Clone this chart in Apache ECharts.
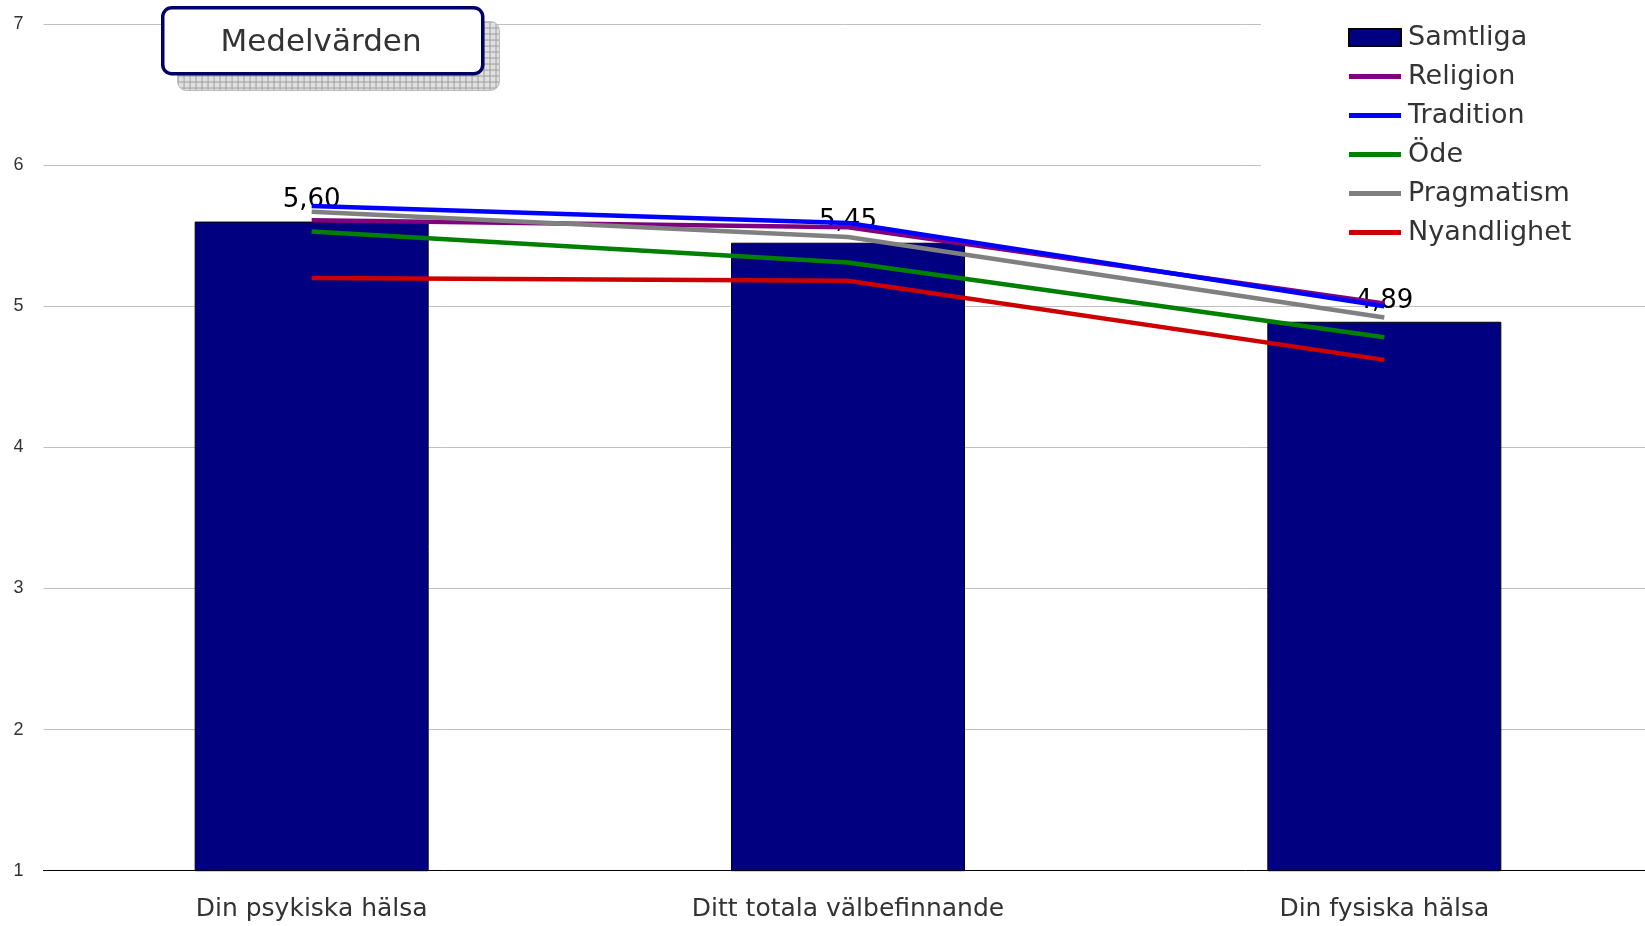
<!DOCTYPE html>
<html><head><meta charset="utf-8">
<script src="https://cdn.jsdelivr.net/npm/echarts@6/dist/echarts.min.js"></script>
<style>html,body{margin:0;padding:0;background:#fff}#c{width:1645px;height:926px}</style>
</head><body><div id="c"></div>
<script>
const categories = ['Din psykiska hälsa', 'Ditt totala välbefinnande', 'Din fysiska hälsa'];
const samtliga = [5.60, 5.45, 4.89];
const religion = [5.61, 5.56, 5.02];
const tradition = [5.71, 5.59, 5.00];
const ode = [5.53, 5.31, 4.78];
const pragmatism = [5.67, 5.49, 4.92];
const nyandlighet = [5.20, 5.18, 4.62];
const yTicks = [1, 7, 1];
const titleText = 'Medelvärden';

const FONT = 'DejaVu Sans';
const pc = document.createElement('canvas');
pc.width = 6; pc.height = 6;
const pctx = pc.getContext('2d');
pctx.fillStyle = '#e0e0e0'; pctx.fillRect(0,0,6,6);
pctx.fillStyle = '#a0a0a0'; pctx.fillRect(0,0,6,1); pctx.fillRect(0,0,1,6);

function line(name, data, color) {
  return {name, type:'line', data, symbol:'none', z:3,
    lineStyle:{color, width:4.5}, itemStyle:{color}};
}
const LINEICON = 'path://M0,0L10,0L10,1L0,1Z';
const chart = echarts.init(document.getElementById('c'));
chart.setOption({
  animation:false,
  textStyle:{fontFamily:FONT},
  grid:{left:43.5, width:1609, top:24, bottom:55.3, outerBoundsMode:'none', containLabel:false},
  legend:{
    orient:'vertical', left:1261, top:0,
    padding:[24, 200, 14, 87],
    backgroundColor:'#ffffff',
    itemWidth:52, itemHeight:17, itemGap:12,
    textStyle:{fontFamily:FONT, fontSize:27, color:'#333', padding:[0,0,0,2]},
    data:[
      {name:'Samtliga', icon:'rect'},
      {name:'Religion', icon:LINEICON},
      {name:'Tradition', icon:LINEICON},
      {name:'Öde', icon:LINEICON},
      {name:'Pragmatism', icon:LINEICON},
      {name:'Nyandlighet', icon:LINEICON}
    ]
  },
  xAxis:{type:'category', data:categories,
    axisLine:{lineStyle:{color:'#000', width:1}}, axisTick:{show:false},
    axisLabel:{fontFamily:FONT, fontSize:25, color:'#333', margin:26}},
  yAxis:{type:'value', min:yTicks[0], max:yTicks[1], interval:yTicks[2],
    axisLine:{show:false}, axisTick:{show:false},
    splitLine:{lineStyle:{color:'#c0c0c0', width:1}},
    axisLabel:{fontFamily:'Liberation Sans', fontSize:18, color:'#333', margin:20}},
  series:[
    {name:'Samtliga', type:'bar', data:samtliga, barWidth:234, z:2,
      itemStyle:{color:'#000080', borderColor:'#000', borderWidth:1},
      label:{show:true, position:'top', distance:8, color:'#000', fontSize:26, fontFamily:FONT,
        formatter:p=>p.value.toFixed(2).replace('.',',')}},
    line('Religion', religion, '#800080'),
    line('Tradition', tradition, '#0000ff'),
    line('Öde', ode, '#008000'),
    line('Pragmatism', pragmatism, '#808080'),
    line('Nyandlighet', nyandlighet, '#cc0000')
  ],
  graphic:[
    {type:'rect', left:177, top:21, z:100, shape:{width:322, height:69, r:9},
      style:{fill:{image:pc, repeat:'repeat'}, stroke:'#bbbbbb', lineWidth:1}},
    {type:'rect', left:161, top:6, z:101, shape:{width:320, height:66, r:9},
      style:{fill:'#fff', stroke:'#000066', lineWidth:3.5}},
    {type:'text', z:102,
      style:{text:titleText, x:321, y:43, textAlign:'center', textVerticalAlign:'middle',
        font:'31px "DejaVu Sans"', fill:'#333'}}
  ]
});
</script></body></html>
